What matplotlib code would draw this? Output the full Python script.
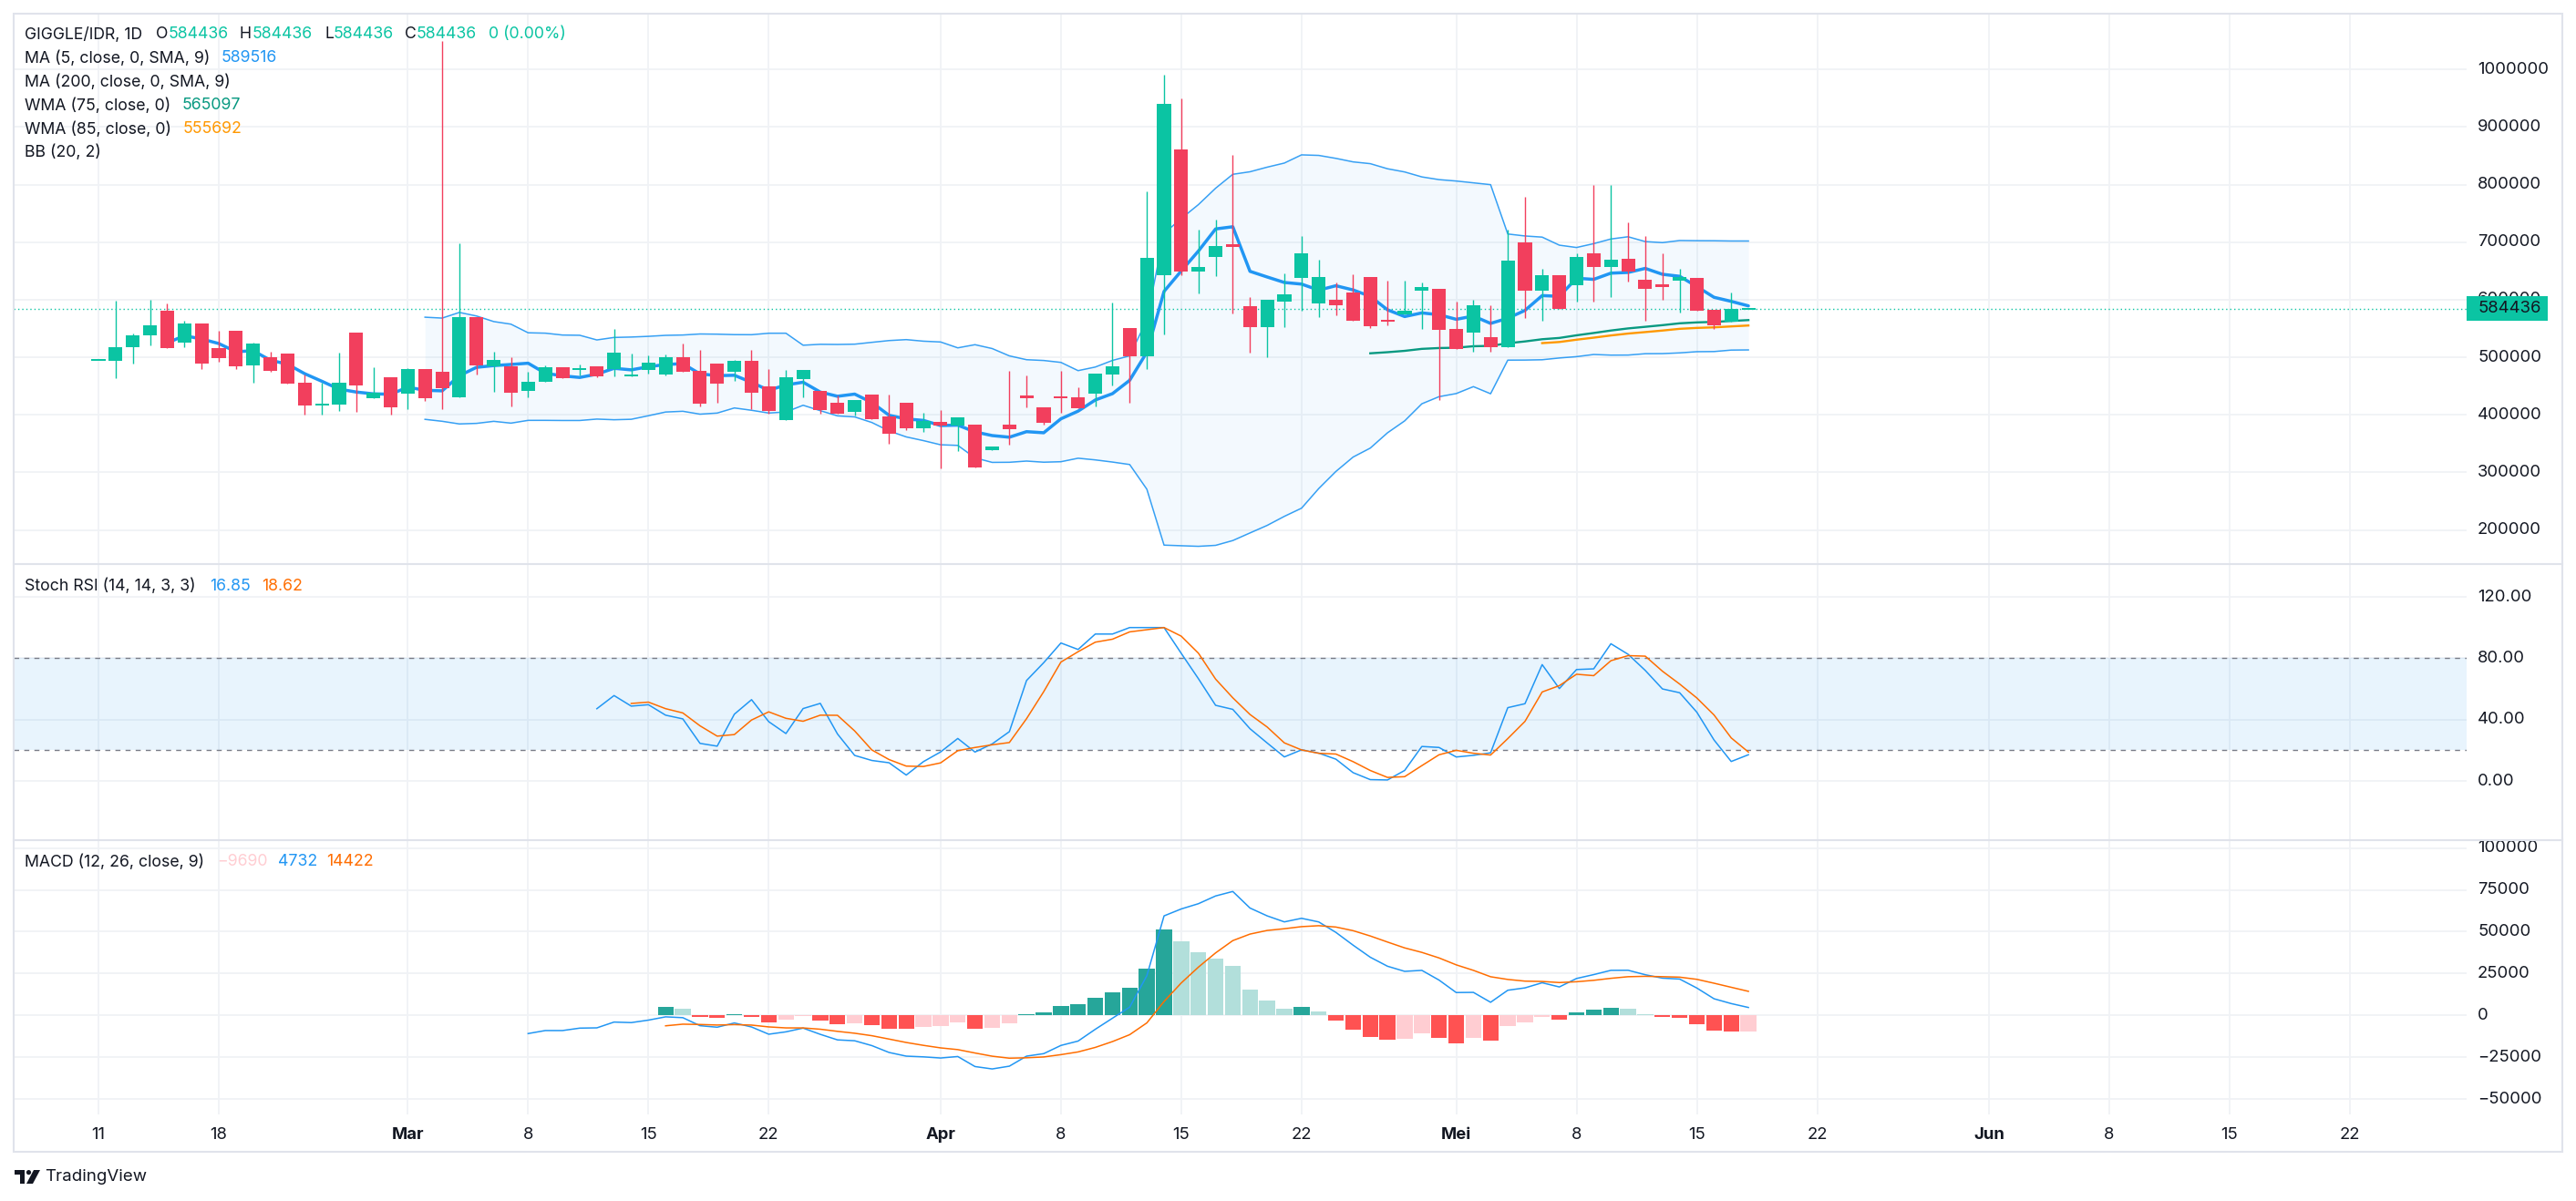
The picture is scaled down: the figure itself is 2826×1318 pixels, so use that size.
import numpy as np
import matplotlib
matplotlib.use('Agg')
import matplotlib.pyplot as plt
from matplotlib.patches import Rectangle, Polygon, Circle

plt.rcParams['font.family'] = ['Inter', 'DejaVu Sans']

W, H = 2826, 1318

# ---------------- data (daily candles from 2025-02-11) ----------------
start_date = '2025-02-11'
opens = [495500, 494300, 517100, 538700, 581500, 526000, 559300, 516500, 546600, 486400,
         500700, 507000, 456300, 417500, 418300, 543500, 429400, 465800, 437300, 480100,
         475300, 430900, 570400, 485000, 484700, 442300, 457700, 483100, 479400, 484700,
         479900, 466700, 478300, 470400, 500500, 476700, 489400, 475100, 494200, 449700,
         391000, 462400, 441800, 421200, 405300, 435500, 397400, 421200, 376700, 387900,
         381500, 383100, 338700, 383100, 432800, 413200, 432300, 430700, 437000, 470400,
         551300, 502100, 643400, 860800, 649700, 675100, 695700, 589400, 552900, 597300,
         638600, 594200, 600500, 613200, 640200, 564000, 575100, 616400, 619600, 549700,
         543400, 535400, 518000, 698900, 616400, 643400, 625900, 679900, 657600, 671900,
         635400, 625400, 633800, 638600, 583100, 562400, 584436]
highs = [496500, 598900, 540800, 600500, 594200, 564100, 559300, 546600, 546600, 526000,
         510200, 507000, 470600, 456300, 508600, 543500, 483200, 465800, 481800, 480100,
         1049000, 697800, 570400, 509500, 500500, 475100, 486200, 483100, 487800, 484700,
         549700, 506900, 503700, 505300, 524300, 513200, 489400, 495800, 513200, 479900,
         478300, 478300, 441800, 433900, 425900, 435500, 435500, 421200, 403700, 408500,
         395800, 383100, 345000, 476700, 468800, 413200, 476700, 448200, 472000, 595700,
         551300, 787800, 990900, 949700, 721100, 738600, 851300, 605300, 600500, 646500,
         710000, 668800, 630700, 644900, 640200, 633800, 633800, 630700, 619600, 597300,
         600500, 591000, 721100, 778300, 654500, 643400, 679900, 798900, 798900, 733800,
         710000, 679900, 654500, 638600, 583100, 613200, 584436]
lows = [495000, 464200, 489600, 521300, 515500, 517100, 480100, 492800, 480100, 456300,
        475300, 454700, 400800, 400800, 407200, 405600, 429400, 400800, 410300, 424100,
        410300, 430900, 470600, 439900, 414800, 430700, 457700, 464000, 468800, 466100,
        467700, 466700, 470900, 468800, 475100, 414800, 421200, 459300, 410100, 402100,
        391000, 430700, 402100, 402100, 399000, 392600, 349800, 373600, 370400, 306900,
        337100, 308500, 338700, 348200, 413200, 383100, 403700, 411700, 414800, 451300,
        421200, 479900, 540200, 643400, 611600, 641800, 576700, 508500, 500500, 552900,
        581500, 570400, 573500, 564000, 551300, 556100, 575100, 549700, 425900, 514800,
        510100, 510100, 518000, 568800, 564000, 584600, 597300, 597300, 605300, 632300,
        564000, 600500, 578300, 581500, 549700, 562400, 584436]
closes = [496000, 518100, 538700, 556200, 515500, 559300, 489600, 499100, 484800, 524500,
          476900, 454700, 416700, 419000, 456300, 451600, 438900, 413500, 480100, 429400,
          446800, 570400, 486400, 495000, 439200, 457700, 483100, 464000, 481000, 467700,
          508500, 469800, 491000, 500500, 475100, 419600, 454500, 494200, 438600, 406900,
          465600, 478300, 408500, 402100, 425900, 392600, 367200, 376700, 389400, 381500,
          395800, 308500, 345000, 375200, 429600, 386300, 429600, 411700, 472000, 484700,
          502100, 673500, 940100, 649700, 657600, 694100, 692600, 552900, 600500, 610000,
          679900, 640200, 591000, 564000, 554500, 563000, 581500, 622700, 548100, 514800,
          591000, 518000, 667200, 616400, 643400, 584600, 675100, 657600, 670300, 649700,
          619600, 623800, 640200, 581500, 556100, 584436, 584436]

tick_dates = ['2025-02-11', '2025-02-18', '2025-03-01', '2025-03-08', '2025-03-15', '2025-03-22',
              '2025-04-01', '2025-04-08', '2025-04-15', '2025-04-22', '2025-05-01', '2025-05-08',
              '2025-05-15', '2025-05-22', '2025-06-01', '2025-06-08', '2025-06-15', '2025-06-22']
tick_labels = ['11', '18', 'Mar', '8', '15', '22', 'Apr', '8', '15', '22', 'Mei', '8', '15', '22',
               'Jun', '8', '15', '22']
month_labels = {'Mar', 'Apr', 'Mei', 'Jun'}

price_ticks = [200000, 300000, 400000, 500000, 600000, 700000, 800000, 900000, 1000000]
stoch_ticks = [0, 40, 80, 120]
macd_ticks = [-50000, -25000, 0, 25000, 50000, 75000, 100000]

# legend rows: (text, colour key, left x in px)
legend_main = [
    [("GIGGLE/IDR, 1D", 'k', 27), ("O", 'k', 171), ("584436", 'up', 185), ("H", 'k', 263),
     ("584436", 'up', 277), ("L", 'k', 356), ("584436", 'up', 366), ("C", 'k', 444),
     ("584436", 'up', 457), ("0 (0.00%)", 'up', 536)],
    [("MA (5, close, 0, SMA, 9)", 'k', 27), ("589516", '#2196F3', 243)],
    [("MA (200, close, 0, SMA, 9)", 'k', 27)],
    [("WMA (75, close, 0)", 'k', 27), ("565097", '#089981', 200)],
    [("WMA (85, close, 0)", 'k', 27), ("555692", '#FF9800', 201)],
    [("BB (20, 2)", 'k', 27)],
]
legend_stoch = [("Stoch RSI (14, 14, 3, 3)", 'k', 27), ("16.85", '#2196F3', 230), ("18.62", '#FF6D00', 287)]
legend_macd = [("MACD (12, 26, close, 9)", 'k', 27), ("\u22129690", '#FFCDD2', 238), ("4732", '#2196F3', 305),
               ("14422", '#FF6D00', 358)]
last_price = 584436

# ---------------- indicator helpers ----------------
o = np.array(opens, float); h = np.array(highs, float)
l = np.array(lows, float); c = np.array(closes, float)
N = len(c)
x = np.arange(N)


def sma(a, n):
    out = np.full(len(a), np.nan)
    for i in range(n - 1, len(a)):
        w = a[i - n + 1:i + 1]
        if not np.isnan(w).any():
            out[i] = w.mean()
    return out


def stdev(a, n):
    out = np.full(len(a), np.nan)
    for i in range(n - 1, len(a)):
        w = a[i - n + 1:i + 1]
        if not np.isnan(w).any():
            out[i] = w.std()
    return out


def wma(a, n):
    wts = np.arange(1, n + 1, dtype=float)
    out = np.full(len(a), np.nan)
    for i in range(n - 1, len(a)):
        out[i] = np.dot(a[i - n + 1:i + 1], wts) / wts.sum()
    return out


def seeded(a, n, alpha):
    out = np.full(len(a), np.nan)
    valid = np.where(~np.isnan(a))[0]
    if len(valid) == 0:
        return out
    f = valid[0]
    s = f + n - 1
    if s >= len(a):
        return out
    out[s] = np.mean(a[f:s + 1])
    for i in range(s + 1, len(a)):
        out[i] = alpha * a[i] + (1 - alpha) * out[i - 1]
    return out


def ema(a, n):
    return seeded(a, n, 2.0 / (n + 1))


def rma(a, n):
    return seeded(a, n, 1.0 / n)


ma5 = sma(c, 5)
basis = sma(c, 20)
dev = 2 * stdev(c, 20)
bb_up = basis + dev
bb_lo = basis - dev
wma75 = wma(c, 75)
wma85 = wma(c, 85)

ch = np.concatenate([[np.nan], np.diff(c)])
upm = np.where(np.isnan(ch), np.nan, np.maximum(ch, 0))
dnm = np.where(np.isnan(ch), np.nan, np.maximum(-ch, 0))
ur = rma(upm, 14); dr = rma(dnm, 14)
with np.errstate(divide='ignore', invalid='ignore'):
    rsi = np.where(dr == 0, 100.0, 100 - 100 / (1 + ur / dr))
rsi[np.isnan(ur)] = np.nan
st = np.full(N, np.nan)
for i in range(13, N):
    w = rsi[i - 13:i + 1]
    if not np.isnan(w).any():
        rng = w.max() - w.min()
        st[i] = 100 * (rsi[i] - w.min()) / rng if rng > 0 else 0
k_line = sma(st, 3)
d_line = sma(k_line, 3)

macd = ema(c, 12) - ema(c, 26)
signal = ema(macd, 9)
hist = macd - signal

# ---------------- figure / layout ----------------
fig = plt.figure(figsize=(W / 100, H / 100), dpi=100)
fig.patch.set_facecolor('white')
renderer = fig.canvas.get_renderer()


def fit_size(text, target_px, base=13.5, weight='normal'):
    t = fig.text(0, 0, text, fontsize=base, fontweight=weight)
    w = t.get_window_extent(renderer=renderer).width
    t.remove()
    return base * target_px / w


FSL = fit_size("MA (5, close, 0, SMA, 9)", 203)
FSA = fit_size("1000000", 77.7)
FST = fit_size("TradingView", 112)

X0, PXD = 108.0, 18.855
XL = ((15 - X0) / PXD, (2706 - X0) / PXD)
PLOT_W = 2706 - 15


def add_ax(top, bottom):
    ax = fig.add_axes([15 / W, 1 - bottom / H, PLOT_W / W, (bottom - top) / H])
    ax.set_xlim(*XL)
    ax.axis('off')
    return ax


ax1 = add_ax(15, 618)
ax2 = add_ax(619, 921)
ax3 = add_ax(922, 1223)
ax1.set_ylim(142400, 1097000)
ax2.set_ylim(-38.0, 141.4)
ax3.set_ylim(-59060, 104660)

GRID = '#f0f2f6'
TXT = '#131722'
UP = '#0bc4a3'
DN = '#f23f5d'

start = np.datetime64(start_date)
tick_days = [(np.datetime64(t) - start).astype(int) for t in tick_dates]

for ax in (ax1, ax2, ax3):
    for d in tick_days:
        ax.axvline(d, color=GRID, lw=1.3, zorder=0)
for v in price_ticks:
    ax1.axhline(v, color=GRID, lw=1.3, zorder=0)
for v in stoch_ticks:
    ax2.axhline(v, color=GRID, lw=1.3, zorder=0)
for v in macd_ticks:
    ax3.axhline(v, color=GRID, lw=1.3, zorder=0)

# ---- main pane ----
ax1.fill_between(x, bb_lo, bb_up, color='#2196F3', alpha=0.05, lw=0, zorder=1)
ax1.plot(x, bb_up, color='#2196F3', lw=1.1, alpha=0.9, zorder=2)
ax1.plot(x, bb_lo, color='#2196F3', lw=1.1, alpha=0.9, zorder=2)
ax1.plot(x, ma5, color='#2196F3', lw=2.5, zorder=3, solid_capstyle='round')
ax1.plot(x, wma75, color='#089981', lw=1.7, zorder=3)
ax1.plot(x, wma85, color='#FF9800', lw=1.7, zorder=3)

cols = np.where(c >= o, UP, DN)
yr = 1097000 - 142400
minh = 2.2 * yr / 603
blo = np.minimum(o, c)
bh = np.abs(c - o)
mid = (o + c) / 2
bottom = np.where(bh < minh, mid - minh / 2, blo)
bh = np.maximum(bh, minh)
ax1.vlines(x, l, h, colors=cols, lw=1.0, zorder=4)
ax1.bar(x, bh, bottom=bottom, width=0.8, color=cols, lw=0, zorder=5)

ax1.axhline(last_price, color=UP, lw=1.0, ls=(0, (1, 2.2)), zorder=2)

# ---- stoch pane ----
ax2.axhspan(20, 80, color='#2196F3', alpha=0.1, lw=0, zorder=1)
ax2.axhline(80, color='#787B86', lw=1.0, ls=(0, (4, 4)), zorder=2)
ax2.axhline(20, color='#787B86', lw=1.0, ls=(0, (4, 4)), zorder=2)
ax2.plot(x, k_line, color='#2196F3', lw=1.1, zorder=3)
ax2.plot(x, d_line, color='#FF6D00', lw=1.1, zorder=3)

# ---- macd pane ----
hcols = []
for i in range(N):
    hv = hist[i]
    prev = hist[i - 1] if i > 0 else np.nan
    grow = np.isnan(prev) or prev < hv
    if hv >= 0:
        hcols.append('#26A69A' if grow else '#B2DFDB')
    else:
        hcols.append('#FFCDD2' if grow else '#FF5252')
ok = ~np.isnan(hist)
ax3.bar(x[ok], hist[ok], width=0.92, color=np.array(hcols)[ok], lw=0, zorder=2)
ax3.plot(x, macd, color='#2196F3', lw=1.1, zorder=3)
ax3.plot(x, signal, color='#FF6D00', lw=1.1, zorder=3)

# ---- axis labels (right) ----
LX = (2718 - 15) / PLOT_W
for v in price_ticks:
    ax1.text(LX, v, f"{v}", transform=ax1.get_yaxis_transform(), ha='left', va='center',
             fontsize=FSA, color=TXT, clip_on=False, zorder=6)
for v in stoch_ticks:
    ax2.text(LX, v, f"{v:.2f}", transform=ax2.get_yaxis_transform(), ha='left', va='center',
             fontsize=FSA, color=TXT, clip_on=False)
for v in macd_ticks:
    s = f"{v}".replace('-', '\u2212')
    ax3.text(LX, v, s, transform=ax3.get_yaxis_transform(), ha='left', va='center',
             fontsize=FSA, color=TXT, clip_on=False)

# x tick labels
TY = -(1246 - 1223) / (1223 - 922)
for d, lab in zip(tick_days, tick_labels):
    ax3.text(d, TY, lab, transform=ax3.get_xaxis_transform(), ha='center', va='center',
             fontsize=FSA, color=TXT, clip_on=False,
             fontweight='bold' if lab in month_labels else 'normal')

# ---------------- overlay ----------------
axo = fig.add_axes([0, 0, 1, 1], zorder=10)
axo.set_xlim(0, W)
axo.set_ylim(H, 0)
axo.axis('off')
axo.patch.set_alpha(0)

BORDER = '#e0e3eb'
axo.add_patch(Rectangle((15, 15), 2811 - 15, 1264 - 15, fill=False, ec=BORDER, lw=1.5))
axo.plot([15, 2811], [618.5, 618.5], color=BORDER, lw=1.5)
axo.plot([15, 2811], [921.5, 921.5], color=BORDER, lw=1.5)

# price label box
py = 76 + (1e6 - last_price) / 1e5 * 63.16
axo.add_patch(Rectangle((2706, py - 13.3), 89, 26.6, color=UP, lw=0))
axo.text(2718, py, f"{last_price}", ha='left', va='center', fontsize=FSA, color=TXT)


def row(y, pieces):
    for txt, colr, xx in pieces:
        colr = TXT if colr == 'k' else (UP if colr == 'up' else colr)
        axo.text(xx, y, txt, ha='left', va='center', fontsize=FSL, color=colr)


for pieces, yy in zip(legend_main, [38, 64, 90, 116, 142, 167]):
    row(yy, pieces)
row(643, legend_stoch)
row(946, legend_macd)

# TradingView logo + text
lx, ly = 16, 1284
axo.add_patch(Polygon([(lx, ly), (lx + 11, ly), (lx + 11, ly + 15), (lx + 5.5, ly + 15),
                       (lx + 5.5, ly + 5), (lx, ly + 5)], closed=True, color=TXT, lw=0))
axo.add_patch(Circle((lx + 15.5, ly + 2.6), 2.6, color=TXT, lw=0))
axo.add_patch(Polygon([(lx + 21, ly), (lx + 28, ly), (lx + 20, ly + 15), (lx + 13, ly + 15)],
                      closed=True, color=TXT, lw=0))
axo.text(49, 1292, "TradingView", ha='left', va='center', fontsize=FST, color=TXT)

fig.savefig('out.png', dpi=100, facecolor='white')
